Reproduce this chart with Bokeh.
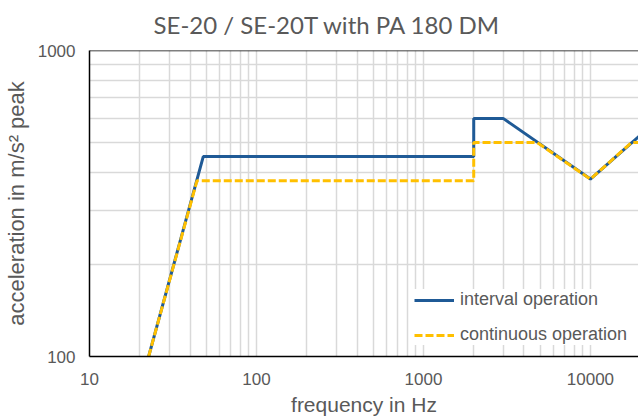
from bokeh.plotting import figure
from bokeh.models import FixedTicker, CustomJSTickFormatter, Span, Legend, LegendItem, Range1d
from bokeh.embed import file_html
from bokeh.resources import INLINE

# data
interval_f = [22.6, 48, 2000, 2000, 3000, 10000, 20000]
interval_a = [100, 450, 450, 600, 600, 380, 530]
continuous_f = [22.6, 44, 2000, 2000, 4800, 10000, 17600, 20000]
continuous_a = [100, 375, 375, 500, 500, 380, 500, 500]
x_major = [10, 100, 1000, 10000]
x_minor = [m * d for d in (10, 100, 1000, 10000) for m in range(2, 10)]
y_major = [100, 1000]
y_minor = [m * 100 for m in range(2, 10)]

TXT = "#595959"
GRID = "#d9d9d9"

p = figure(frame_width=549, frame_height=306, x_axis_type="log", y_axis_type="log",
           x_range=Range1d(10, 19400), y_range=Range1d(100, 1000),
           output_backend="svg", toolbar_location=None,
           min_border_left=81, min_border_right=0, min_border_top=42,
           min_border_bottom=0)
p.outline_line_color = None
p.background_fill_color = "white"

p.title.text = "SE-20 / SE-20T with PA 180 DM"
p.title.text_font = "Lato"
p.title.text_font_size = "24px"
p.title.text_font_style = "normal"
p.title.text_color = TXT
p.title.align = "left"
p.title.vertical_align = "top"
p.title.text_line_height = 0.8
p.title.offset = 64
p.title.standoff = 19

xt = FixedTicker(ticks=x_major, minor_ticks=x_minor)
yt = FixedTicker(ticks=y_major, minor_ticks=y_minor)
p.xaxis.ticker = xt
p.yaxis.ticker = yt
p.xgrid.ticker = xt
p.ygrid.ticker = yt
fmt = CustomJSTickFormatter(code="return tick.toFixed(0);")
p.xaxis.formatter = fmt
p.yaxis.formatter = fmt

for g in (p.xgrid, p.ygrid):
    g.grid_line_color = GRID
    g.grid_line_width = 1.5
    g.minor_grid_line_color = GRID
    g.minor_grid_line_width = 1.5

for ax in (p.xaxis, p.yaxis):
    ax.axis_line_color = "black"
    ax.axis_line_width = 1.5
    ax.major_tick_line_color = None
    ax.minor_tick_line_color = None
    ax.major_tick_out = 0
    ax.major_tick_in = 0
    ax.minor_tick_out = 0
    ax.minor_tick_in = 0
    ax.major_label_text_font = "Liberation Sans"
    ax.major_label_text_font_size = "17px"
    ax.major_label_text_color = TXT
    ax.axis_label_text_font = "Liberation Sans"
    ax.axis_label_text_font_style = "normal"
    ax.axis_label_text_color = TXT

p.xaxis.axis_label = "frequency in Hz"
p.yaxis.axis_label = "acceleration in m/s² peak"
p.xaxis.axis_label_text_font_size = "21px"
p.yaxis.axis_label_text_font_size = "22px"
p.xaxis.major_label_standoff = 16
p.xaxis.axis_label_standoff = 5
p.yaxis.major_label_standoff = 14
p.yaxis.axis_label_standoff = 6

p.add_layout(Span(location=1000, dimension="width", line_color="black", line_width=1.5))

r1 = p.line(interval_f, interval_a, line_color="#1f5a96", line_width=3)
r2 = p.line(continuous_f, continuous_a, line_color="#ffc000", line_width=3, line_dash="8 3")

legend = Legend(items=[LegendItem(label="interval operation", renderers=[r1]),
                       LegendItem(label="continuous operation", renderers=[r2])],
                location=(325, 11))
legend.border_line_color = None
legend.background_fill_color = "white"
legend.background_fill_alpha = 1.0
legend.label_text_font = "Liberation Sans"
legend.label_text_font_size = "18px"
legend.label_text_color = TXT
legend.glyph_width = 40
legend.glyph_height = 20
legend.label_height = 20
legend.spacing = 14
legend.padding = 4
legend.margin = 0
legend.label_standoff = 6
p.add_layout(legend, "center")

open("out.html", "w").write(file_html(p, INLINE))
